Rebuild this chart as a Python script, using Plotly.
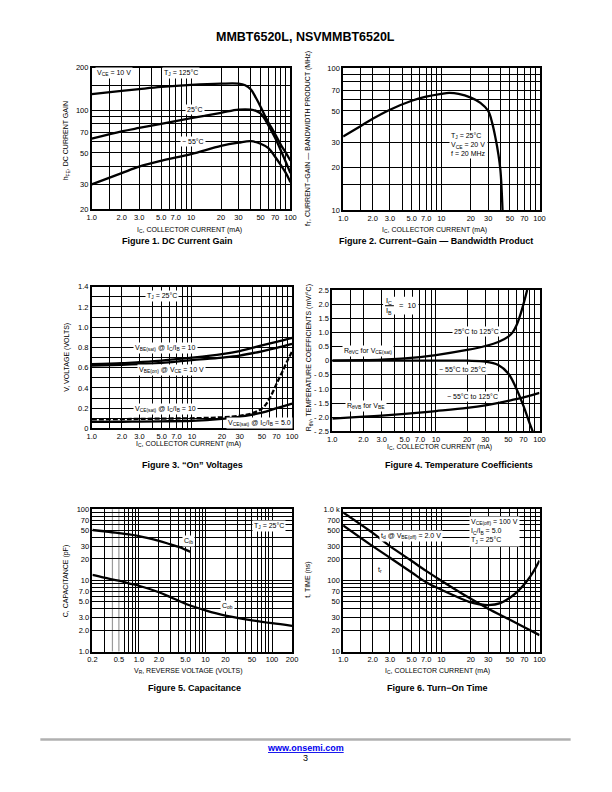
import math
import plotly.graph_objects as go

W, H = 612, 792
FONT = "Liberation Sans Narrow, Arial Narrow, Liberation Sans, Arial, sans-serif"
BOLD = "Liberation Sans, Arial, sans-serif"

# ---------------- data ----------------
# Figure 1: DC current gain
ic1_125 = [1, 2, 3, 5, 10, 20, 30, 35, 40, 45, 50, 55, 60, 70, 80, 90, 100]
hfe_125 = [130, 137, 141, 146, 151, 154, 154, 150, 140, 122, 106, 92, 82, 68, 57, 50, 44]
ic1_25 = [1, 2, 3, 5, 10, 20, 30, 40, 45, 50, 55, 60, 70, 80, 90, 100]
hfe_25 = [63, 71, 75, 80, 88, 96, 101, 101, 99, 95, 87, 78, 64, 52, 43, 36]
ic1_m55 = [1, 2, 3, 5, 10, 20, 30, 40, 50, 60, 70, 80, 90, 100]
hfe_m55 = [30, 36, 40, 44, 49, 56, 59, 60.5, 58, 54, 47, 41, 36, 31]

# Figure 2: current-gain bandwidth product
ic2 = [1, 1.5, 2, 3, 5, 7, 10, 12, 15, 20, 25, 30, 33, 36, 38, 40, 42]
ft = [33, 39, 44, 51, 59, 63, 66, 67, 66, 62, 57, 50, 41, 31, 25, 19, 10]

# Figure 3: "On" voltages
ic3 = [1, 2, 3, 5, 7, 10, 20, 30, 50, 70, 100]
vbe_sat = [0.635, 0.645, 0.655, 0.67, 0.685, 0.70, 0.735, 0.765, 0.82, 0.855, 0.895]
vbe_on = [0.62, 0.628, 0.635, 0.648, 0.66, 0.675, 0.70, 0.72, 0.762, 0.795, 0.835]
ic3_10 = [1, 2, 3, 5, 10, 20, 30, 40, 50, 56, 60, 65, 70, 76, 80, 90, 100]
vce_sat10 = [0.09, 0.092, 0.094, 0.097, 0.10, 0.11, 0.125, 0.15, 0.195, 0.25, 0.30, 0.37, 0.44, 0.515, 0.56, 0.67, 0.76]
ic3_5 = [1, 2, 3, 5, 10, 20, 30, 50, 70, 100]
vce_sat5 = [0.065, 0.066, 0.068, 0.07, 0.075, 0.095, 0.115, 0.155, 0.20, 0.245]

# Figure 4: temperature coefficients
ic4_hi = [1, 2, 3, 5, 10, 20, 30, 40, 50, 55, 60, 65, 70, 76]
tc_vc_hi = [0.0, 0.02, 0.04, 0.08, 0.2, 0.38, 0.52, 0.66, 0.85, 1.0, 1.25, 1.6, 2.0, 2.5]
ic4_lo = [1, 3, 10, 20, 30, 40, 50, 60, 70, 80, 86]
tc_vc_lo = [0, 0, 0, 0, -0.03, -0.15, -0.45, -1.0, -1.6, -2.2, -2.5]
ic4_vb = [1, 2, 3, 5, 10, 20, 30, 50, 70, 100]
tc_vb = [-2.05, -1.98, -1.94, -1.88, -1.78, -1.67, -1.58, -1.42, -1.30, -1.14]

# Figure 5: capacitance
vr_ib = [0.2, 0.3, 0.5, 1.0, 2.0, 3.0, 4.0, 5.0, 6.0]
c_ib = [51, 49, 46, 42, 36, 32, 29.5, 27, 25]
vr_ob = [0.2, 0.3, 0.5, 0.7, 1.0, 2.0, 3.0, 5.0, 10, 20, 50, 100, 200]
c_ob = [11.9, 10.9, 9.9, 9.1, 8.4, 6.8, 5.8, 4.7, 3.8, 3.2, 2.75, 2.5, 2.3]

# Figure 6: turn-on time
ic6_td = [1, 2, 3, 5, 7, 10, 20, 30, 50, 70, 100]
t_d = [900, 464, 303, 187, 136, 99, 55, 40, 28, 22, 17]
ic6_tr = [1, 2, 3, 5, 7, 10, 20, 25, 30, 40, 50, 60, 70, 80, 90, 100]
t_r = [593, 303, 208, 129, 94, 74, 49, 46, 45, 48, 57, 70, 88, 112, 145, 190]

# tick labels / grids
ic_ticks = [1, 2, 3, 5, 7, 10, 20, 30, 50, 70, 100]
ic_text = ["1.0", "2.0", "3.0", "5.0", "7.0", "10", "20", "30", "50", "70", "100"]
ic_grid = [1, 1.5, 2, 3, 4, 5, 6, 7, 8, 9, 10, 20, 30, 40, 50, 60, 70, 80, 90, 100]

hfe_ticks = [20, 30, 50, 70, 100, 200]
hfe_text = ["20", "30", "50", "70", "100", "200"]
hfe_grid = [20, 30, 40, 50, 60, 70, 80, 90, 100, 150, 200]

ft_ticks = [10, 20, 30, 50, 70, 100]
ft_text = ["10", "20", "30", "50", "70", "100"]
ft_grid = [10, 15, 20, 30, 40, 50, 60, 70, 80, 90, 100]

v_ticks = [0, 0.2, 0.4, 0.6, 0.8, 1.0, 1.2, 1.4]
v_text = ["0", "0.2", "0.4", "0.6", "0.8", "1.0", "1.2", "1.4"]
v_grid = [i / 10 for i in range(15)]

tc_ticks = [-2.5, -2.0, -1.5, -1.0, -0.5, 0, 0.5, 1.0, 1.5, 2.0, 2.5]
tc_text = ["- 2.5", "- 2.0", "- 1.5", "- 1.0", "- 0.5", "0", "0.5", "1.0", "1.5", "2.0", "2.5"]

vr_ticks = [0.2, 0.5, 1, 2, 5, 10, 20, 50, 100, 200]
vr_text = ["0.2", "0.5", "1.0", "2.0", "5.0", "10", "20", "50", "100", "200"]
vr_grid = [0.2, 0.3, 0.6, 0.7, 0.8, 0.9, 1, 2, 3, 4, 5, 6, 7, 8, 9, 10,
           20, 30, 40, 50, 60, 70, 80, 90, 100, 200]
vr_gray = [0.4, 0.5]

c_ticks = [1, 2, 3, 5, 7, 10, 20, 30, 50, 70, 100]
c_text = ["1.0", "2.0", "3.0", "5.0", "7.0", "10", "20", "30", "50", "70", "100"]
c_grid = [1, 2, 3, 4, 5, 6, 7, 8, 9, 10, 20, 30, 40, 50, 60, 70, 80, 90, 100]

t_ticks = [10, 20, 30, 50, 70, 100, 200, 300, 500, 700, 1000]
t_text = ["10", "20", "30", "50", "70", "100", "200", "300", "500", "700", "1.0 k"]
t_grid = [10, 20, 30, 40, 50, 60, 70, 80, 90, 100, 200, 300, 400, 500, 600, 700, 800, 900, 1000]


# ---------------- helpers ----------------
def px(x):
    return x / W


def py(y):
    return 1 - y / H


def dom_x(a, b):
    return [px(a), px(b)]


def dom_y(top, bottom):
    return [py(bottom), py(top)]


def make_axis(domain, typ, rng, tickvals, ticktext, grid, anchor):
    return dict(
        domain=domain, type=typ, range=rng, anchor=anchor,
        tickmode="array", tickvals=tickvals, ticktext=ticktext,
        showgrid=False, zeroline=False, ticks="",
        showline=True, linecolor="black", linewidth=1.5, mirror=True,
        tickfont=dict(family=FONT, size=7.5, color="black"),
        minor=dict(tickmode="array", tickvals=grid, showgrid=True,
                   gridcolor="black", gridwidth=1.2, ticks=""),
        fixedrange=True,
    )


fig = go.Figure()
LINE = dict(color="black", width=2.3)


def add(x, y, n, dash=None):
    ln = dict(LINE)
    if dash:
        ln["dash"] = dash
    fig.add_trace(go.Scatter(x=x, y=y, mode="lines", line=ln,
                             line_shape="spline", xaxis=f"x{n}", yaxis=f"y{n}",
                             hoverinfo="skip"))


add(ic1_125, hfe_125, 1)
add(ic1_25, hfe_25, 1)
add(ic1_m55, hfe_m55, 1)
add(ic2, ft, 2)
add(ic3, vbe_sat, 3)
add(ic3, vbe_on, 3)
add(ic3_5, vce_sat5, 3)
add(ic3_10, vce_sat10, 3, dash="5px,2px")
add(ic4_hi, tc_vc_hi, 4)
add(ic4_lo, tc_vc_lo, 4)
add(ic4_vb, tc_vb, 4)
add(vr_ib, c_ib, 5)
add(vr_ob, c_ob, 5)
add(ic6_td, t_d, 6)
add(ic6_tr, t_r, 6)

L = math.log10

layout = dict(
    width=W, height=H, margin=dict(l=0, r=0, t=0, b=0),
    paper_bgcolor="white", plot_bgcolor="white", showlegend=False,
    xaxis=make_axis(dom_x(88.3, 290.7), "log", [0, 2], ic_ticks, ic_text, ic_grid, "y"),
    yaxis=make_axis(dom_y(64.3, 207.7), "log", [L(20), L(200)], hfe_ticks, hfe_text, hfe_grid, "x"),
    xaxis2=make_axis(dom_x(344.3, 544.3), "log", [0, 2], ic_ticks, ic_text, ic_grid, "y2"),
    yaxis2=make_axis(dom_y(65, 208.3), "log", [1, 2], ft_ticks, ft_text, ft_grid, "x2"),
    xaxis3=make_axis(dom_x(88.3, 292.3), "log", [0, 2], ic_ticks, ic_text, ic_grid, "y3"),
    yaxis3=make_axis(dom_y(286, 429.3), "linear", [0, 1.4], v_ticks, v_text, v_grid, "x3"),
    xaxis4=make_axis(dom_x(333.3, 544.3), "log", [0, 2], ic_ticks, ic_text, ic_grid, "y4"),
    yaxis4=make_axis(dom_y(289.3, 432.3), "linear", [-2.5, 2.5], tc_ticks, tc_text, tc_ticks, "x4"),
    xaxis5=make_axis(dom_x(89, 292.3), "log", [L(0.2), L(200)], vr_ticks, vr_text, vr_grid, "y5"),
    yaxis5=make_axis(dom_y(511, 655), "log", [0, 2], c_ticks, c_text, c_grid, "x5"),
    xaxis6=make_axis(dom_x(344.3, 544.3), "log", [0, 2], ic_ticks, ic_text, ic_grid, "y6"),
    yaxis6=make_axis(dom_y(511, 655), "log", [1, 3], t_ticks, t_text, t_grid, "x6"),
)
fig.update_layout(**layout)

# gray grid lines in Figure 5
for g in vr_gray:
    fig.add_shape(type="line", xref="x5", yref="y5 domain", x0=g, x1=g, y0=0, y1=1,
                  line=dict(color="#9a9a9a", width=1.2), layer="below")

ann = []


def text(t, x, y, size=7, bg=True, font=FONT, xanchor="center", angle=0,
         color="black", align="center"):
    ann.append(dict(
        text=t, x=px(x), y=py(y), xref="paper", yref="paper",
        xanchor=xanchor, yanchor="middle", showarrow=False, textangle=angle,
        align=align, font=dict(family=font, size=size, color=color),
        bgcolor="white" if bg else None, borderpad=1))


# Figure 1 labels
text("V<sub>CE</sub> = 10 V", 111, 70)
text("T<sub>J</sub> = 125°C", 179, 70)
text("25°C", 193, 107)
text("− 55°C", 191, 139.5)
# Figure 2 labels
text("T<sub>J</sub> = 25°C<br>V<sub>CE</sub> = 20 V<br>f = 20 MHz", 452, 142,
     xanchor="left", align="left")
# Figure 3 labels
text("T<sub>J</sub> = 25°C", 160, 295.7)
text("V<sub>BE(sat)</sub> @ I<sub>C</sub>/I<sub>B</sub> = 10", 163, 348)
text("V<sub>BE(on)</sub> @ V<sub>CE</sub> = 10 V", 170, 370.7)
text("V<sub>CE(sat)</sub> @ I<sub>C</sub>/I<sub>B</sub> = 10", 163, 410)
text("V<sub>CE(sat)</sub> @ I<sub>C</sub>/I<sub>B</sub> = 5.0", 259, 424)
# Figure 4 labels
fig.add_shape(type="rect", xref="paper", yref="paper",
              x0=px(385), x1=px(421), y0=py(314), y1=py(296),
              fillcolor="white", line=dict(width=0), layer="above")
text("I<sub>C</sub>", 391, 300.2, size=7.5, bg=False)
text("I<sub>B</sub>", 391, 310.2, size=7.5, bg=False)
fig.add_shape(type="line", xref="paper", yref="paper",
              x0=px(387), x1=px(396), y0=py(305.2), y1=py(305.2),
              line=dict(color="black", width=1), layer="above")
text("=  10", 410, 305.2, size=7.5, bg=False)
text("25°C to 125°C", 480, 331.7)
text("R<sub>θVC</sub> for V<sub>CE(sat)</sub>", 370, 351)
text("− 55°C to 25°C", 466, 370)
text("− 55°C to 125°C", 476, 396.7)
text("R<sub>θVB</sub> for V<sub>BE</sub>", 367.5, 407)
# Figure 5 labels
text("T<sub>J</sub> = 25°C", 268.5, 528.3)
text("C<sub>ib</sub>", 186.7, 543)
text("C<sub>ob</sub>", 226.7, 609.3)
# Figure 6 labels
text("V<sub>CE(off)</sub> = 100 V<br>I<sub>C</sub>/I<sub>B</sub> = 5.0<br>T<sub>J</sub> = 25°C",
     473, 533.5, xanchor="left", align="left")
text("t<sub>d</sub> @ V<sub>BE(off)</sub> = 2.0 V", 413.5, 538)
text("t<sub>r</sub>", 382, 573)

# axis titles (x)
xt = "I<sub>C</sub>, COLLECTOR CURRENT (mA)"
text(xt, 188, 228.3, bg=False)
text(xt, 437, 228.3, bg=False)
text(xt, 187, 445, bg=False)
text(xt, 442, 448.3, bg=False)
text("V<sub>R</sub>, REVERSE VOLTAGE (VOLTS)", 187, 675, bg=False)
text(xt, 440, 675, bg=False)
# axis titles (y)
text("h<sub>FE</sub>, DC CURRENT GAIN", 63, 138, bg=False, angle=-90)
text("f<sub>T</sub>, CURRENT−GAIN — BANDWIDTH PRODUCT (MHz)", 309, 136, bg=False, angle=-90)
text("V, VOLTAGE (VOLTS)", 63, 357, bg=False, angle=-90)
text("R<sub>θV</sub>, TEMPERATURE COEFFICIENTS (mV/°C)", 310, 358, bg=False, angle=-90)
text("C, CAPACITANCE (pF)", 62, 584, bg=False, angle=-90)
text("t, TIME (ns)", 309, 582, bg=False, angle=-90)

# page title and captions
text("<b>MMBT6520L, NSVMMBT6520L</b>", 306, 33, size=12.5, bg=False, font=BOLD)
text("<b>Figure 1. DC Current Gain</b>", 176, 240, size=9, bg=False, font=BOLD)
text("<b>Figure 2. Current−Gain — Bandwidth Product</b>", 439, 240, size=9, bg=False, font=BOLD)
text("<b>Figure 3. “On” Voltages</b>", 191, 466.7, size=9, bg=False, font=BOLD)
text("<b>Figure 4. Temperature Coefficients</b>", 462, 466.7, size=9, bg=False, font=BOLD)
text("<b>Figure 5. Capacitance</b>", 193, 691.7, size=9, bg=False, font=BOLD)
text("<b>Figure 6. Turn−On Time</b>", 440, 691.7, size=9, bg=False, font=BOLD)

# footer
fig.add_shape(type="line", xref="paper", yref="paper", x0=px(36), x1=px(576),
              y0=py(744), y1=py(744), line=dict(color="#b0b0b0", width=2.5))
text("<b><u>www.onsemi.com</u></b>", 306, 752.5, size=9, bg=False, font=BOLD, color="#0000ee")
text("3", 306, 763, size=9, bg=False, font=BOLD)

fig.update_layout(annotations=ann)
fig.write_html(
    "out.html",
    config={"displayModeBar": False},
    post_script="document.body.style.margin='0';document.body.style.padding='0';"
                "document.documentElement.style.overflow='hidden';",
)
